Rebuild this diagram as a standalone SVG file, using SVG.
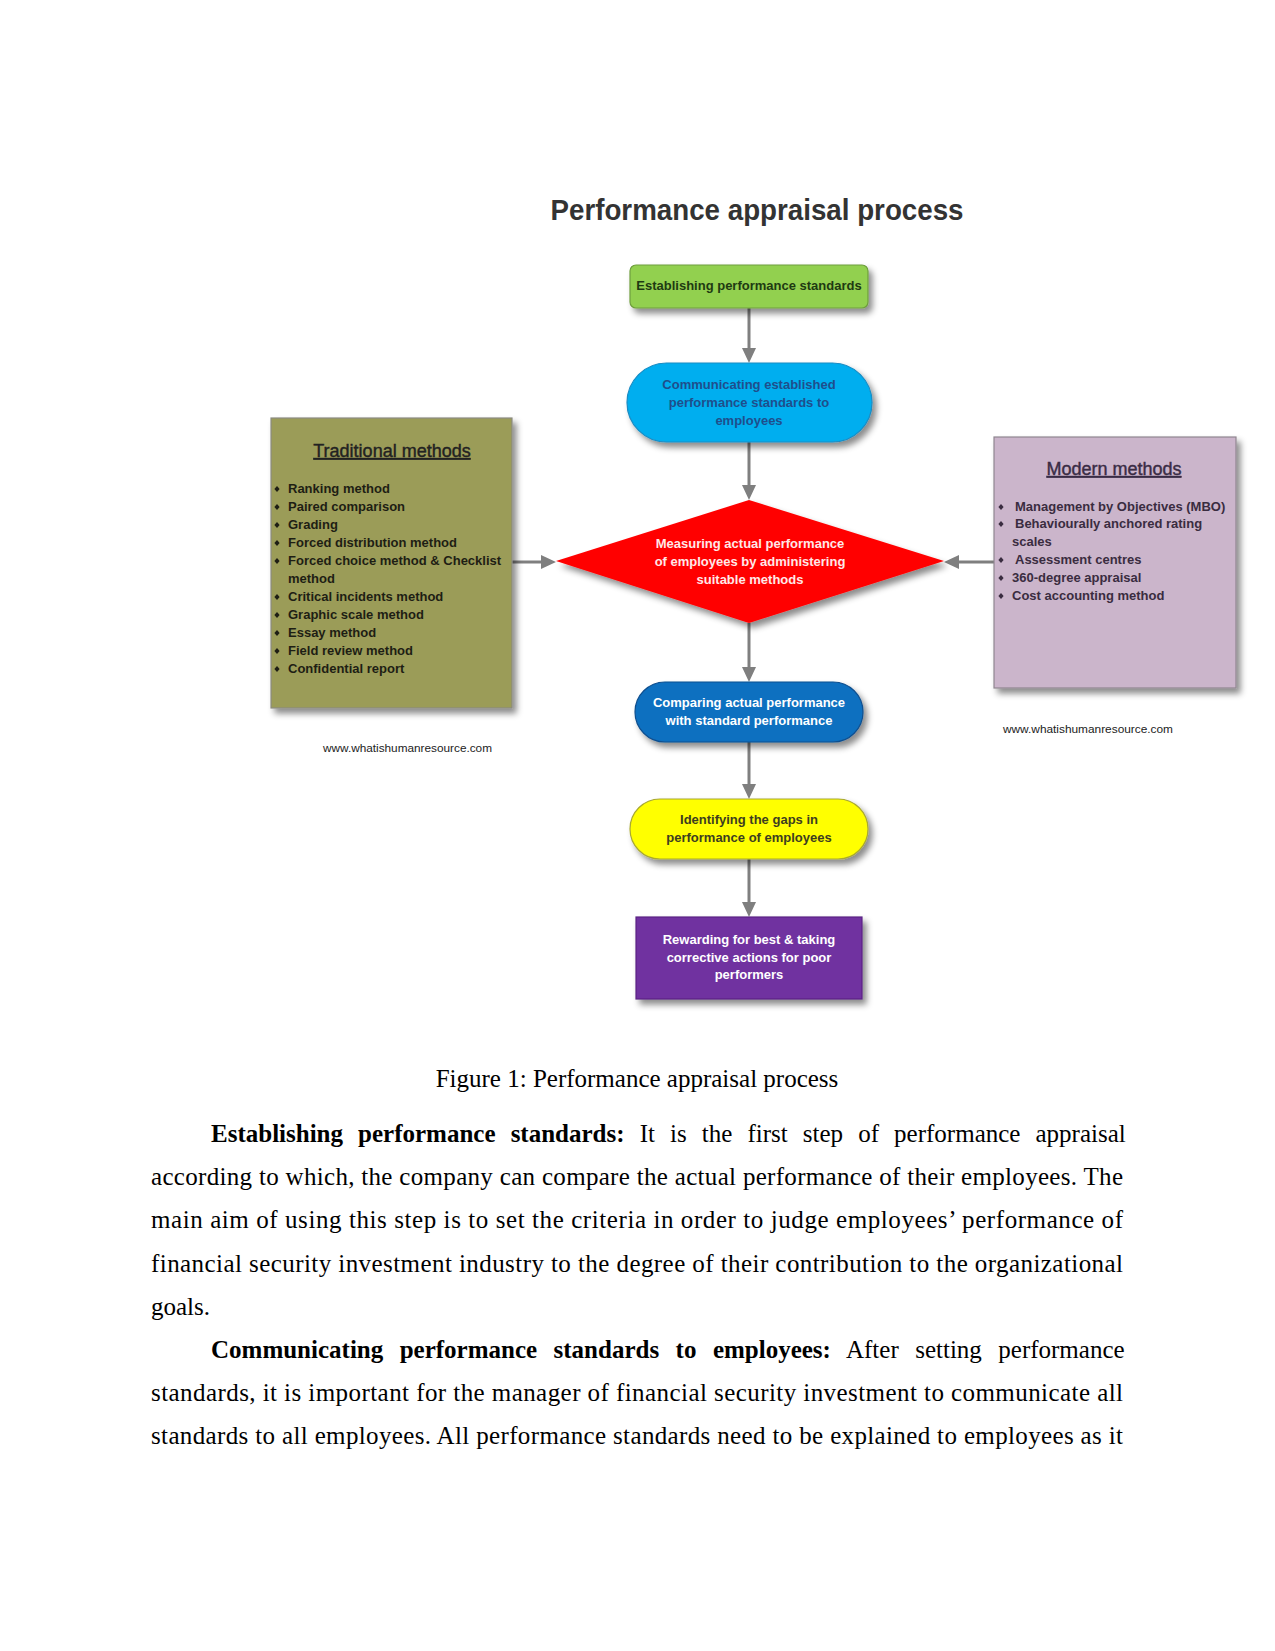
<svg xmlns="http://www.w3.org/2000/svg" width="1275" height="1651" viewBox="0 0 1275 1651">
<style>
.d{font-family:"Liberation Sans",Arial,sans-serif;font-weight:bold;font-size:13px}
.c{text-anchor:middle}
.tr{fill:#1e1e14}
.mo{fill:#3a2c40}
.wm{font-family:"Liberation Sans",Arial,sans-serif;font-size:11.5px;fill:#222}
.hd{font-family:"Liberation Sans",Arial,sans-serif;font-size:18px;text-decoration:underline;stroke-width:0.4}
.b{font-family:"Liberation Serif","Times New Roman",serif;font-size:25px;fill:#000}
.bb{font-weight:bold}
.con{stroke:#7f7f7f;stroke-width:3;fill:none}
</style>
<defs>
<filter id="sh" x="-10%" y="-10%" width="130%" height="140%">
<feDropShadow dx="4" dy="5" stdDeviation="3" flood-color="#000" flood-opacity="0.45"/>
</filter>
<marker id="ah" markerUnits="userSpaceOnUse" markerWidth="15" markerHeight="14" refX="0" refY="7" orient="auto">
<path d="M0,0 L15,7 L0,14 z" fill="#7f7f7f"/>
</marker>
<symbol id="bul" overflow="visible"><path d="M0,-3 L2.6,0 L0,3 L-2.6,0 z"/></symbol>
</defs>
<rect width="1275" height="1651" fill="#fff"/>

<text x="757" y="220" font-family="'Liberation Sans',Arial,sans-serif" font-weight="bold" font-size="30" fill="#333" text-anchor="middle" textLength="413" lengthAdjust="spacingAndGlyphs">Performance appraisal process</text>

<g id="connectors">
<line class="con" x1="749" y1="308" x2="749" y2="348" marker-end="url(#ah)"/>
<line class="con" x1="749" y1="442" x2="749" y2="485" marker-end="url(#ah)"/>
<line class="con" x1="749" y1="623" x2="749" y2="667" marker-end="url(#ah)"/>
<line class="con" x1="749" y1="742" x2="749" y2="784" marker-end="url(#ah)"/>
<line class="con" x1="749" y1="859" x2="749" y2="902" marker-end="url(#ah)"/>
<line class="con" x1="512" y1="562" x2="541" y2="562" marker-end="url(#ah)"/>
<line class="con" x1="994" y1="562" x2="959" y2="562" marker-end="url(#ah)"/>
</g>

<g id="establishing">
<rect x="630" y="265" width="238" height="43" rx="6" fill="#92d050" stroke="#6e9e3c" stroke-width="1.2" filter="url(#sh)"/>
<text class="d c" x="749" y="290" fill="#1e3a12">Establishing performance standards</text>
</g>

<g id="communicating">
<rect x="627" y="363" width="245" height="79" rx="39.5" fill="#00aeef" stroke="#1a8cc4" stroke-width="1.2" filter="url(#sh)"/>
<text class="d c" fill="#1f4e8c"><tspan x="749" y="389">Communicating established</tspan><tspan x="749" y="407">performance standards to</tspan><tspan x="749" y="425">employees</tspan></text>
</g>

<g id="measuring">
<polygon points="749,500 944,561 749,623 556,561" fill="#ff0000" filter="url(#sh)"/>
<text class="d c" fill="#ffe8e8"><tspan x="750" y="548">Measuring actual performance</tspan><tspan x="750" y="566">of employees by administering</tspan><tspan x="750" y="584">suitable methods</tspan></text>
</g>

<g id="comparing">
<rect x="635" y="682" width="228" height="60" rx="30" fill="#1170c0" stroke="#0d4f8f" stroke-width="1.2" filter="url(#sh)"/>
<text class="d c" fill="#fff"><tspan x="749" y="707">Comparing actual performance</tspan><tspan x="749" y="725">with standard performance</tspan></text>
</g>

<g id="identifying">
<rect x="630" y="799" width="238" height="60" rx="30" fill="#ffff00" stroke="#a8a830" stroke-width="1.2" filter="url(#sh)"/>
<text class="d c" fill="#3d3d20"><tspan x="749" y="824">Identifying the gaps in</tspan><tspan x="749" y="842">performance of employees</tspan></text>
</g>

<g id="rewarding">
<rect x="636" y="917" width="226" height="82" fill="#7030a0" stroke="#5a2484" stroke-width="1.2" filter="url(#sh)"/>
<text class="d c" fill="#fff"><tspan x="749" y="944">Rewarding for best &amp; taking</tspan><tspan x="749" y="962">corrective actions for poor</tspan><tspan x="749" y="979">performers</tspan></text>
</g>

<g id="traditional">
<rect x="271" y="418" width="241" height="290" fill="#9b9c58" stroke="#8a8a80" stroke-width="1.2" filter="url(#sh)"/>
<text class="hd c" x="392" y="457" fill="#222" stroke="#222">Traditional methods</text>
<g fill="#1e1e14">
<use href="#bul" x="277" y="489"/><use href="#bul" x="277" y="507"/><use href="#bul" x="277" y="525"/><use href="#bul" x="277" y="543"/><use href="#bul" x="277" y="561"/><use href="#bul" x="277" y="597"/><use href="#bul" x="277" y="615"/><use href="#bul" x="277" y="633"/><use href="#bul" x="277" y="651"/><use href="#bul" x="277" y="669"/>
</g>
<text class="d tr">
<tspan x="288" y="493">Ranking method</tspan>
<tspan x="288" y="511">Paired comparison</tspan>
<tspan x="288" y="529">Grading</tspan>
<tspan x="288" y="547">Forced distribution method</tspan>
<tspan x="288" y="565">Forced choice method &amp; Checklist</tspan>
<tspan x="288" y="583">method</tspan>
<tspan x="288" y="601">Critical incidents method</tspan>
<tspan x="288" y="619">Graphic scale method</tspan>
<tspan x="288" y="637">Essay method</tspan>
<tspan x="288" y="655">Field review method</tspan>
<tspan x="288" y="673">Confidential report</tspan>
</text>
<text class="wm" x="323" y="752" textLength="169" lengthAdjust="spacingAndGlyphs">www.whatishumanresource.com</text>
</g>

<g id="modern">
<rect x="994" y="437" width="242" height="251" fill="#cbb5cb" stroke="#8f8690" stroke-width="1.2" filter="url(#sh)"/>
<text class="hd c" x="1114" y="475" fill="#3a2c45" stroke="#3a2c45">Modern methods</text>
<g fill="#3a2c40">
<use href="#bul" x="1001" y="507"/><use href="#bul" x="1001" y="524"/><use href="#bul" x="1001" y="560"/><use href="#bul" x="1001" y="578"/><use href="#bul" x="1001" y="596"/>
</g>
<text class="d mo">
<tspan x="1015" y="511">Management by Objectives (MBO)</tspan>
<tspan x="1015" y="528">Behaviourally anchored rating</tspan>
<tspan x="1012" y="546">scales</tspan>
<tspan x="1015" y="564">Assessment centres</tspan>
<tspan x="1012" y="582">360-degree appraisal</tspan>
<tspan x="1012" y="600">Cost accounting method</tspan>
</text>
<text class="wm" x="1003" y="733" textLength="170" lengthAdjust="spacingAndGlyphs">www.whatishumanresource.com</text>
</g>

<g id="body-text">
<text class="b" x="637" y="1087" text-anchor="middle">Figure 1: Performance appraisal process</text>
<text class="b" x="211" y="1142" word-spacing="8.85"><tspan class="bb">Establishing performance standards:</tspan> It is the first step of performance appraisal</text>
<text class="b" x="151" y="1185" textLength="972" lengthAdjust="spacing">according to which, the company can compare the actual performance of their employees. The</text>
<text class="b" x="151" y="1228" textLength="972" lengthAdjust="spacing">main aim of using this step is to set the criteria in order to judge employees’ performance of</text>
<text class="b" x="151" y="1272" textLength="972" lengthAdjust="spacing">financial security investment industry to the degree of their contribution to the organizational</text>
<text class="b" x="151" y="1315">goals.</text>
<text class="b" x="211" y="1358" word-spacing="10.2"><tspan class="bb">Communicating performance standards to employees:</tspan> After setting performance</text>
<text class="b" x="151" y="1401" textLength="972" lengthAdjust="spacing">standards, it is important for the manager of financial security investment to communicate all</text>
<text class="b" x="151" y="1444" textLength="972" lengthAdjust="spacing">standards to all employees. All performance standards need to be explained to employees as it</text>
</g>
</svg>
